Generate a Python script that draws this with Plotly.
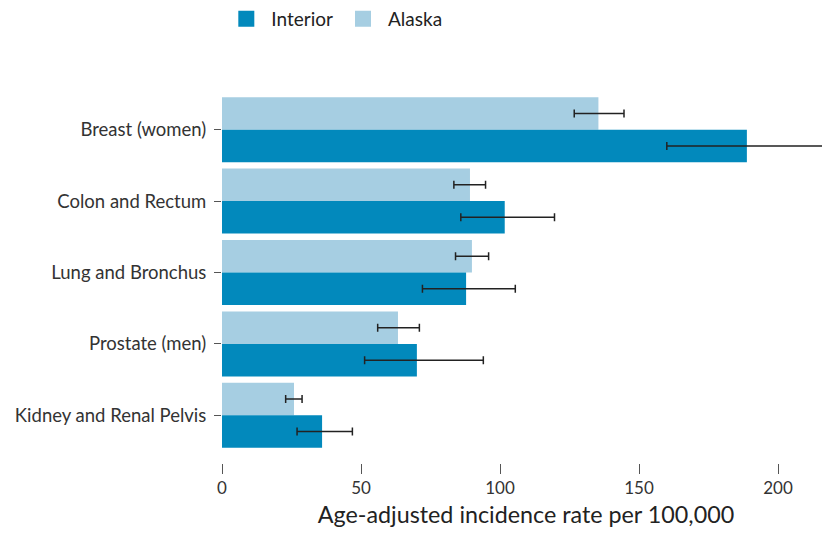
import plotly.graph_objects as go

categories = ["Breast (women)", "Colon and Rectum", "Lung and Bronchus",
              "Prostate (men)", "Kidney and Renal Pelvis"]
interior = [188.8, 101.7, 87.8, 70.1, 36.0]
interior_lo = [160.0, 85.9, 72.1, 51.3, 27.0]
interior_hi = [225.0, 119.6, 105.5, 94.0, 46.9]
alaska = [135.4, 89.2, 89.9, 63.3, 25.9]
alaska_lo = [126.7, 83.4, 84.0, 56.0, 22.9]
alaska_hi = [144.6, 94.8, 95.9, 71.0, 28.8]
x_ticks = [0, 50, 100, 150, 200]

C_INT = "#0289BC"
C_AK = "#A6CEE2"
FONT = "Lato"

def err(vals, lo, hi):
    return dict(type="data", symmetric=False,
                array=[h - v for v, h in zip(vals, hi)],
                arrayminus=[v - l for v, l in zip(vals, lo)],
                color="#222222", thickness=1.5, width=4)

fig = go.Figure()
fig.add_trace(go.Bar(name="Alaska", y=categories, x=alaska, orientation="h",
                     marker=dict(color=C_AK, line=dict(width=0)),
                     error_x=err(alaska, alaska_lo, alaska_hi), showlegend=False))
fig.add_trace(go.Bar(name="Interior", y=categories, x=interior, orientation="h",
                     marker=dict(color=C_INT, line=dict(width=0)),
                     error_x=err(interior, interior_lo, interior_hi), showlegend=False))
# legend entries
fig.add_trace(go.Scatter(name="Interior", x=[None], y=[None], mode="markers",
                         marker=dict(symbol="square", size=19, color=C_INT)))
fig.add_trace(go.Scatter(name="Alaska", x=[None], y=[None], mode="markers",
                         marker=dict(symbol="square", size=19, color=C_AK)))

fig.update_layout(
    width=830, height=535,
    margin=dict(l=214, r=8, t=86, b=79.5, autoexpand=False),
    paper_bgcolor="white", plot_bgcolor="white",
    barmode="group", bargap=0.09, bargroupgap=0,
    font=dict(family=FONT, size=18.5, color="#333333"),
    legend=dict(orientation="h", xref="container", yref="paper",
                x=0.257, xanchor="left", y=1.255, yanchor="top",
                bgcolor="rgba(0,0,0,0)",
                font=dict(size=19, color="#222222"), itemsizing="trace",
                itemwidth=40, tracegroupgap=0),
    xaxis=dict(range=[0, 218.7], tickvals=x_ticks, showgrid=False, zeroline=False,
               showline=False, ticks="outside", ticklen=10, tickcolor="#555555",
               tickwidth=1, tickfont=dict(size=17, color="#333333"), automargin=False,
               title=dict(text="Age-adjusted incidence rate per 100,000",
                          font=dict(size=23.3, color="#222222"), standoff=9)),
    yaxis=dict(range=[4.668, -0.5], showgrid=False, zeroline=False, showline=False,
               ticks="outside", ticklen=7, tickcolor="#555555", tickwidth=1,
               automargin=False,
               tickfont=dict(size=18.5, color="#333333"), ticklabelstandoff=4),
)

fig.write_html("out.html")
